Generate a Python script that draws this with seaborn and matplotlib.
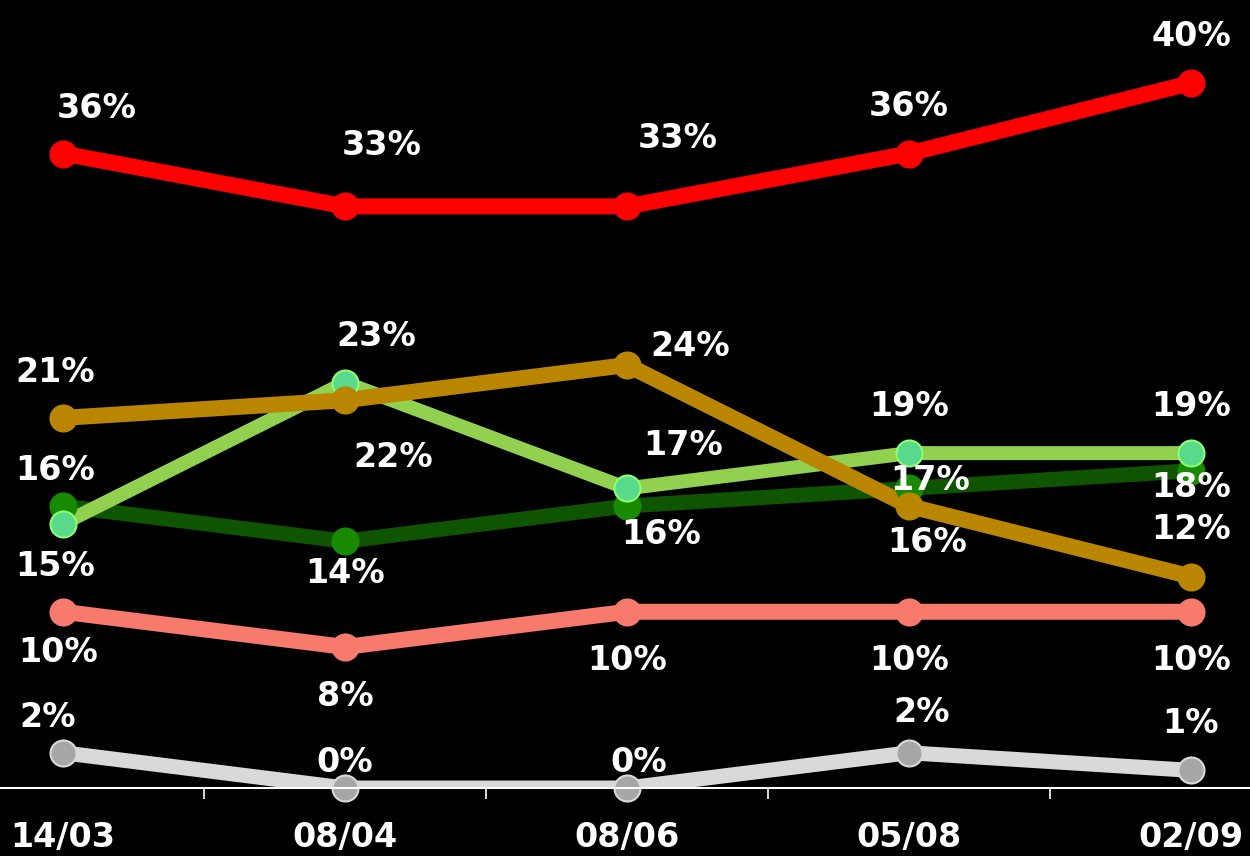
"""Poll trend lines on a black background."""
import matplotlib
matplotlib.use("Agg")
import matplotlib.pyplot as plt
import seaborn as sns
import pandas as pd

dates = ["14/03", "08/04", "08/06", "05/08", "02/09"]

red_vals = [36, 33, 33, 36, 40]
gold_vals = [21, 22, 24, 16, 12]
light_green_vals = [15, 23, 17, 19, 19]
dark_green_vals = [16, 14, 16, 17, 18]
salmon_vals = [10, 8, 10, 10, 10]
gray_vals = [2, 0, 0, 2, 1]

# label offsets in pixels (dx, dy), dy up
red_off = [(34, 45), (37, 61), (51, 68), (0, 47), (0, 46)]
gold_off = [(-8, 45), (48, -57), (63, 19), (18, -37), (0, 47)]
light_green_off = [(-8, -43), (31, 46), (56, 43), (0, 47), (0, 47)]
dark_green_off = [(-8, 36), (0, -32), (34, -28), (21, 8), (0, -17)]
salmon_off = [(-5, -41), (0, -50), (0, -49), (0, -49), (0, -49)]
gray_off = [(-15, 35), (0, 25), (12, 25), (13, 40), (0, 47)]

# drawing order: bottom first
series = [
    ("gray", gray_vals, gray_off, "#D9D9D9", "#A6A6A6", "#D9D9D9", 15),
    ("salmon", salmon_vals, salmon_off, "#F87A6C", "#F87A6C", "#F87A6C", 16),
    ("dark_green", dark_green_vals, dark_green_off, "#0F5500", "#178A00", "#178A00", 15),
    ("light_green", light_green_vals, light_green_off, "#92D050", "#58D98C", "#8CFF6E", 14),
    ("gold", gold_vals, gold_off, "#BA8600", "#BA8600", "#BA8600", 16),
    ("red", red_vals, red_off, "#FF0000", "#FF0000", "#FF0000", 16),
]

sns.set_style("dark")
plt.rcParams["font.family"] = ["DejaVu Sans"]

fig = plt.figure(figsize=(12.5, 8.56), dpi=100, facecolor="black")
ax = fig.add_axes([0, 68 / 856, 1, 788 / 856])
ax.set_facecolor("black")

x = list(range(len(dates)))
for name, vals, offs, line_c, face_c, edge_c, lw in series:
    df = pd.DataFrame({"x": x, "y": vals})
    sns.lineplot(data=df, x="x", y="y", ax=ax, color=line_c, linewidth=lw * 0.72,
                 solid_capstyle="butt", legend=False)
    pts = ax.scatter(df["x"], df["y"], s=(26 * 0.72) ** 2, color=face_c,
                     edgecolors=edge_c, linewidths=1.5, zorder=ax.lines[-1].get_zorder() + 0.1)
    pts.set_clip_on(False)
    for xi, v, (dx, dy) in zip(x, vals, offs):
        ax.annotate(f"{v}%", (xi, v), xytext=(dx, dy), textcoords="offset pixels",
                    ha="center", va="center", color="white", fontsize=24,
                    fontweight="bold", annotation_clip=False, zorder=10)

ax.set_xlim(-63 / 282, 1187 / 282)
ax.set_ylim(0, 788 / 17.625)
ax.set_xlabel("")
ax.set_ylabel("")
ax.grid(False)
for side in ["top", "left", "right"]:
    ax.spines[side].set_visible(False)
ax.spines["bottom"].set_visible(True)
ax.spines["bottom"].set_color("white")
ax.spines["bottom"].set_linewidth(1.5)

ax.set_yticks([])
ax.set_xticks(x)
ax.set_xticklabels(dates, color="white", fontsize=24, fontweight="bold")
ax.set_xticks([i + 0.5 for i in x[:-1]], minor=True)
ax.tick_params(axis="x", which="both", bottom=True)
ax.tick_params(axis="x", which="major", length=0, pad=24)
ax.tick_params(axis="x", which="minor", length=8, width=1.2, color="white", direction="out")

fig.savefig("out.png", dpi=100, facecolor="black")
